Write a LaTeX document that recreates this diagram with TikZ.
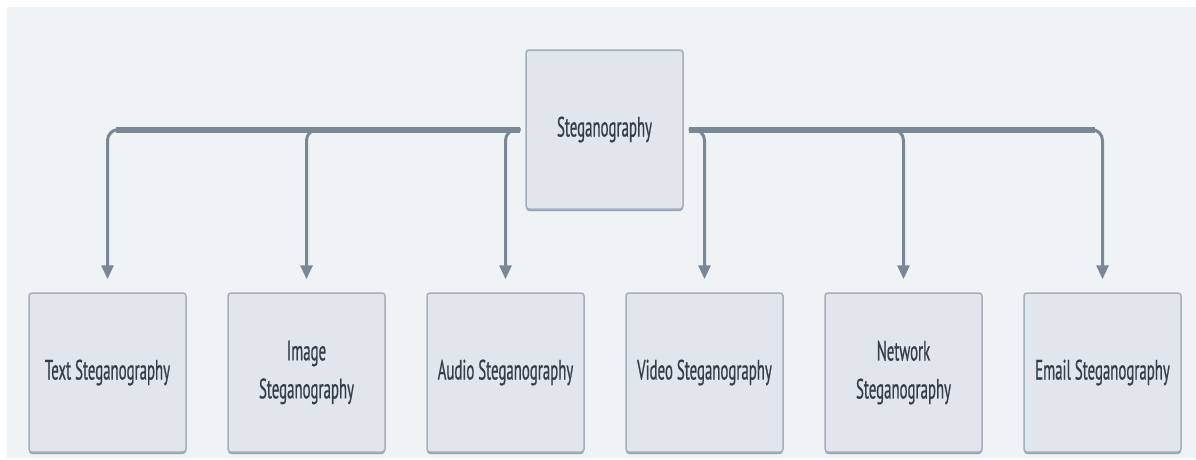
\documentclass[tikz,border=0pt]{standalone}
\usepackage{fontspec}
\newfontfamily\diafont[FakeStretch=0.53,FakeBold=0.6]{PT Sans}
\usetikzlibrary{arrows.meta,shadows}
\definecolor{bgcol}{HTML}{EFF3F6}
\definecolor{boxfill}{HTML}{E1E5EC}
\definecolor{boxborder}{HTML}{A3AFBB}
\definecolor{shadowcol}{HTML}{95A2AF}
\definecolor{linecol}{HTML}{7A8794}
\definecolor{textcol}{HTML}{343E49}
\tikzset{
  box/.style={draw=boxborder, line width=1.5pt, fill=boxfill, rounded corners=3pt,
    minimum width=157pt, minimum height=159pt, align=center,
    font=\diafont\fontsize{28}{38}\selectfont, text=textcol,
    drop shadow={shadow xshift=0pt, shadow yshift=-2pt, fill=shadowcol, opacity=1}},
  branch/.style={draw=linecol, line width=3pt, rounded corners=11pt,
    -{Triangle[width=12pt,length=14pt]}, shorten >=13pt},
  trunk/.style={draw=linecol, line width=6pt}
}
\begin{document}
\begin{tikzpicture}[x=1pt,y=-1pt]
\useasboundingbox (0,0) rectangle (1196,459);
\fill[bgcol] (7,7) rectangle (1196,458);
\node[box] (top) at (604.5,129.5) {Steganography};
\node[box] (n1) at (107.5,372.5) {Text Steganography};
\node[box] (n2) at (306.5,372.5) {Image\\Steganography};
\node[box] (n3) at (505.5,372.5) {Audio Steganography};
\node[box] (n4) at (704.5,372.5) {Video Steganography};
\node[box] (n5) at (903.5,372.5) {Network\\Steganography};
\node[box] (n6) at (1102.5,372.5) {Email Steganography};
% trunk
\draw[trunk] ([xshift=-5pt]top.west) -- ([xshift=8pt]top.west -| n1.north);
\draw[trunk] ([xshift=5pt]top.east) -- ([xshift=-8pt]top.east -| n6.north);
% branches
\foreach \n in {n1,n2,n3} {
  \draw[branch] ([xshift=-5pt]top.west) -| (\n.north);
}
\foreach \n in {n4,n5,n6} {
  \draw[branch] ([xshift=5pt]top.east) -| (\n.north);
}
\end{tikzpicture}
\end{document}
